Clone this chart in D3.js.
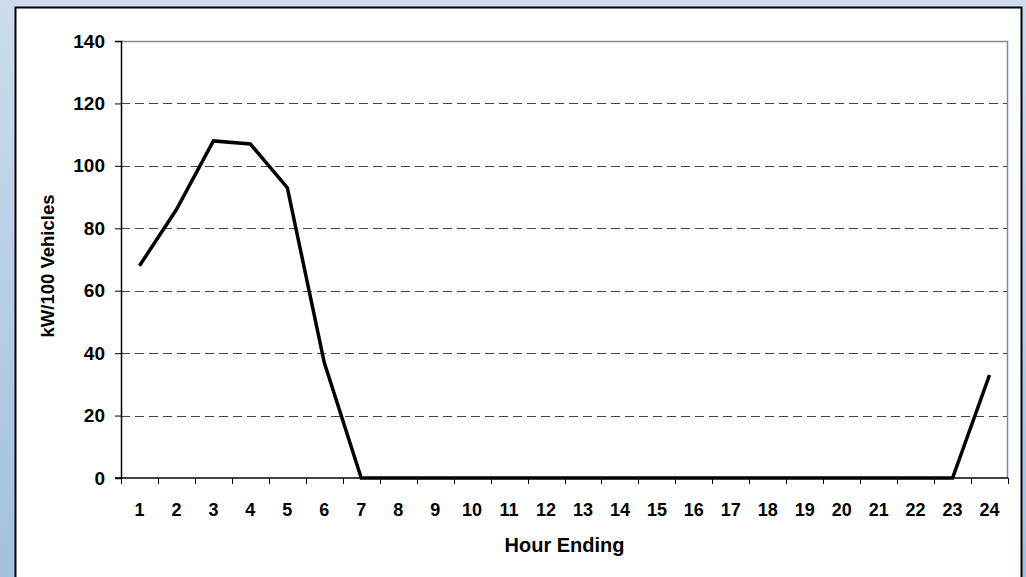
<!DOCTYPE html>
<html>
<head>
<meta charset="utf-8">
<script src="https://cdn.jsdelivr.net/npm/d3@7"></script>
<style>
  html, body { margin: 0; padding: 0; }
  body { width: 1026px; height: 577px; overflow: hidden; }
  svg { display: block; font-family: "Liberation Sans", Arial, sans-serif; }
</style>
</head>
<body>
<svg class="chart"></svg>
<script>
// hours on the x axis
const hours = d3.range(1, 25);
// kW per 100 vehicles
const load = [68, 86, 108, 107, 93, 37, 0, 0, 0, 0, 0, 0, 0, 0, 0, 0, 0, 0, 0, 0, 0, 0, 0, 33];
// y tick labels
const yTicks = [0, 20, 40, 60, 80, 100, 120, 140];

const styles = {
  width: 1026,
  height: 577,
  margin: [41, 18, 99, 121] // top, right, bottom, left of plot area
};

const svg = d3.select('.chart')
  .attr('width', styles.width)
  .attr('height', styles.height)
  .attr('viewBox', [0, 0, styles.width, styles.height]);

// blue backdrop
const grad = svg.append('defs').append('linearGradient')
  .attr('id', 'bg').attr('x1', 0).attr('y1', 0).attr('x2', 0).attr('y2', 1);
grad.append('stop').attr('offset', 0).attr('stop-color', '#cddcec');
grad.append('stop').attr('offset', 1).attr('stop-color', '#a2c0df');
svg.append('rect').attr('width', styles.width).attr('height', styles.height).attr('fill', 'url(#bg)');

// white chart box
svg.append('rect')
  .attr('x', 15.5).attr('y', 7.5)
  .attr('width', 1006).attr('height', 600)
  .attr('fill', '#fff').attr('stroke', '#000').attr('stroke-width', 2);

const x = d3.scaleBand()
  .domain(hours)
  .range([styles.margin[3], styles.width - styles.margin[1]])
  .padding(0);

const y = d3.scaleLinear()
  .domain([0, 140])
  .range([styles.height - styles.margin[2], styles.margin[0]]);

const x0 = x.range()[0], x1 = x.range()[1];

// dashed gridlines
svg.append('g')
  .selectAll('line')
  .data(yTicks.filter(d => d > 0 && d < 140))
  .join('line')
  .attr('x1', x0).attr('x2', x1)
  .attr('y1', d => Math.round(y(d)) + 0.5).attr('y2', d => Math.round(y(d)) + 0.5)
  .attr('stroke', '#444')
  .attr('stroke-dasharray', '9,5');

// plot border (top and right, grey)
svg.append('path')
  .attr('d', `M${x0},${Math.round(y(140)) + 0.5}H${x1 - 0.5}V${y(0)}`)
  .attr('fill', 'none')
  .attr('stroke', '#888')
  .attr('stroke-width', 1.5);

// y axis
svg.append('g')
  .attr('transform', `translate(${x0},0)`)
  .call(d3.axisLeft(y).tickValues(yTicks).tickSize(6).tickPadding(10))
  .call(g => g.select('.domain').attr('stroke', '#000').attr('stroke-width', 1.5))
  .call(g => g.selectAll('.tick line').attr('stroke', '#000'))
  .call(g => g.selectAll('text')
    .attr('font-size', 19).attr('font-weight', 'bold').attr('fill', '#000'));

// x axis labels
svg.append('g')
  .attr('transform', `translate(0,${y(0)})`)
  .call(d3.axisBottom(x).tickSize(0).tickPadding(25))
  .call(g => g.select('.domain').remove())
  .call(g => g.selectAll('text')
    .attr('font-size', 18).attr('font-weight', 'bold').attr('fill', '#000'));

// x tick marks between categories
svg.append('g')
  .attr('stroke', '#000')
  .selectAll('line')
  .data(hours.map(h => x(h)).concat([x1]))
  .join('line')
  .attr('x1', d => Math.round(d) + 0.5).attr('x2', d => Math.round(d) + 0.5)
  .attr('y1', y(0)).attr('y2', y(0) + 6);

// x axis line
svg.append('line')
  .attr('x1', x0 - 6).attr('x2', x1)
  .attr('y1', y(0)).attr('y2', y(0))
  .attr('stroke', '#000').attr('stroke-width', 1.5);

// load curve
const line = d3.line()
  .x((d, i) => x(hours[i]) + x.bandwidth() / 2)
  .y(d => y(d));

svg.append('path')
  .datum(load)
  .attr('d', line)
  .attr('fill', 'none')
  .attr('stroke', '#000')
  .attr('stroke-width', 3.5)
  .attr('stroke-linejoin', 'miter');

// axis titles
svg.append('text')
  .attr('x', (x0 + x1) / 2)
  .attr('y', 552)
  .attr('text-anchor', 'middle')
  .attr('font-size', 20).attr('font-weight', 'bold')
  .text('Hour Ending');

svg.append('text')
  .attr('transform', `translate(54,266) rotate(-90)`)
  .attr('text-anchor', 'middle')
  .attr('font-size', 18.5).attr('font-weight', 'bold')
  .text('kW/100 Vehicles');
</script>
</body>
</html>
